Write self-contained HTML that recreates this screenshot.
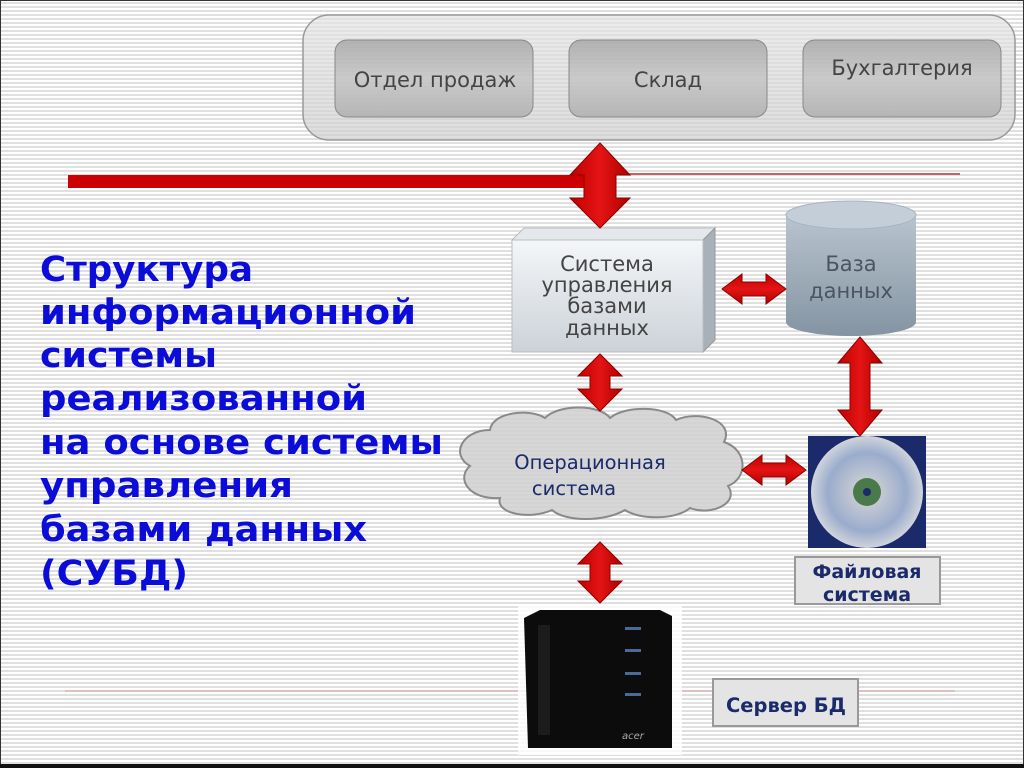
<!DOCTYPE html>
<html><head><meta charset="utf-8"><style>
html,body{margin:0;padding:0;}
body{width:1024px;height:768px;overflow:hidden;position:relative;
background:repeating-linear-gradient(180deg,#ffffff 0px,#ffffff 2px,#e0e0e0 2px,#e0e0e0 4px);
font-family:"DejaVu Sans","Liberation Sans",sans-serif;}
svg{position:absolute;left:0;top:0;}
</style></head><body>
<svg width="1024" height="768" viewBox="0 0 1024 768" xmlns="http://www.w3.org/2000/svg">
<defs>
<linearGradient id="btn" x1="0" y1="0" x2="0" y2="1"><stop offset="0" stop-color="#a4a4a4"/><stop offset="0.5" stop-color="#c4c4c4"/><stop offset="1" stop-color="#acacac"/></linearGradient>
<linearGradient id="panel" x1="0" y1="0" x2="0" y2="1"><stop offset="0" stop-color="#e4e4e4"/><stop offset="1" stop-color="#cfcfcf"/></linearGradient>
<linearGradient id="box" x1="0" y1="0" x2="0" y2="1"><stop offset="0" stop-color="#f4f6f8"/><stop offset="1" stop-color="#ccd2d8"/></linearGradient>
<linearGradient id="cyl" x1="0" y1="0" x2="0" y2="1"><stop offset="0" stop-color="#b8c4ce"/><stop offset="1" stop-color="#8494a2"/></linearGradient>
<linearGradient id="red" x1="0" y1="0" x2="1" y2="0"><stop offset="0" stop-color="#c00000"/><stop offset="0.5" stop-color="#e41414"/><stop offset="1" stop-color="#b00000"/></linearGradient>
<linearGradient id="redv" x1="0" y1="0" x2="0" y2="1"><stop offset="0" stop-color="#c00000"/><stop offset="0.5" stop-color="#e41414"/><stop offset="1" stop-color="#b00000"/></linearGradient>
<radialGradient id="cd" cx="0.5" cy="0.5" r="0.5"><stop offset="0" stop-color="#3a6a3a"/><stop offset="0.15" stop-color="#6a8a70"/><stop offset="0.2" stop-color="#c8ccd4"/><stop offset="0.7" stop-color="#9aaccc"/><stop offset="1" stop-color="#d0d4dc"/></radialGradient>
</defs>
<rect x="0.5" y="0.5" width="1023" height="767" fill="none" stroke="#333" stroke-width="1"/>
<rect x="0" y="764" width="1024" height="4" fill="#111"/>
<rect x="303" y="15" width="712" height="125" rx="26" fill="url(#panel)" fill-opacity="0.7" stroke="#999" stroke-width="1.5"/>
<rect x="335" y="40" width="198" height="77" rx="12" fill="url(#btn)" fill-opacity="0.8" stroke="#888"/>
<rect x="569" y="40" width="198" height="77" rx="12" fill="url(#btn)" fill-opacity="0.8" stroke="#888"/>
<rect x="803" y="40" width="198" height="77" rx="12" fill="url(#btn)" fill-opacity="0.8" stroke="#888"/>
<g font-family="DejaVu Sans, Liberation Sans, sans-serif" font-size="21" fill="#444" text-anchor="middle">
<text x="435" y="87">Отдел продаж</text>
<text x="668" y="87">Склад</text>
<text x="902" y="75">Бухгалтерия</text>
</g>
<rect x="68" y="175" width="520" height="13" fill="#cc0000"/>
<line x1="615" y1="174" x2="960" y2="174" stroke="#c03030" stroke-width="1.5"/>
<line x1="65" y1="691" x2="955" y2="691" stroke="#e0a0a0" stroke-width="1"/>
<g font-family="DejaVu Sans, Verdana, sans-serif" font-weight="bold" font-size="35" fill="#0c0cd8">
<text x="40" y="281" textLength="213" lengthAdjust="spacingAndGlyphs">Структура</text>
<text x="40" y="324" textLength="376" lengthAdjust="spacingAndGlyphs">информационной</text>
<text x="40" y="367" textLength="177" lengthAdjust="spacingAndGlyphs">системы</text>
<text x="40" y="410" textLength="327" lengthAdjust="spacingAndGlyphs">реализованной</text>
<text x="40" y="454" textLength="403" lengthAdjust="spacingAndGlyphs">на основе системы</text>
<text x="40" y="497" textLength="253" lengthAdjust="spacingAndGlyphs">управления</text>
<text x="40" y="541" textLength="327" lengthAdjust="spacingAndGlyphs">базами данных</text>
<text x="40" y="585" textLength="148" lengthAdjust="spacingAndGlyphs">(СУБД)</text>
</g>
<polygon points="512,240 524,228 715,228 703,240" fill="#e4e8ec" stroke="#bbb"/>
<polygon points="703,240 715,228 715,340 703,352" fill="#a8b0b8" stroke="#999"/>
<rect x="512" y="240" width="191" height="112" fill="url(#box)" stroke="#b8bec4"/>
<g font-size="21" fill="#444" text-anchor="middle">
<text x="607" y="271">Система</text>
<text x="607" y="292">управления</text>
<text x="607" y="313">базами</text>
<text x="607" y="335">данных</text>
</g>
<path d="M786,215 L786,322 A65,14 0 0 0 916,322 L916,215 Z" fill="url(#cyl)"/>
<ellipse cx="851" cy="215" rx="65" ry="14" fill="#c4ced8" stroke="#a8b4c0"/>
<g font-size="21" fill="#4a5560" text-anchor="middle">
<text x="851" y="271">База</text>
<text x="851" y="298">данных</text>
</g>
<path d="M490,430 C492,412 530,408 545,418 C558,404 600,404 610,418 C625,405 668,406 676,420 C698,410 735,420 724,442 C748,450 748,478 728,486 C740,504 710,516 690,508 C676,520 640,520 625,510 C605,522 565,522 552,510 C530,520 495,514 500,498 C468,500 456,478 470,466 C450,455 462,430 490,430 Z" fill="#d0d0d0" fill-opacity="0.85" stroke="#8a8a8a" stroke-width="2"/>
<g font-size="19.5" fill="#1a2a6a" text-anchor="middle">
<text x="590" y="469">Операционная</text>
<text x="574" y="495">система</text>
</g>
<rect x="808" y="436" width="118" height="112" fill="#1a2a6a"/>
<circle cx="867" cy="492" r="56" fill="url(#cd)"/>
<circle cx="867" cy="492" r="14" fill="#4a7a4a"/>
<circle cx="867" cy="492" r="4" fill="#1a2a6a"/>
<rect x="518" y="605" width="164" height="150" fill="#fff" fill-opacity="0.8"/>
<path d="M524,618 L540,610 L660,610 L672,616 L672,748 L528,748 Z" fill="#0c0c0c"/>
<rect x="538" y="625" width="12" height="110" fill="#1c1c1c"/>
<g fill="#4a6a9a"><rect x="625" y="627" width="16" height="3"/><rect x="625" y="649" width="16" height="3"/><rect x="625" y="672" width="16" height="3"/><rect x="625" y="693" width="16" height="3"/></g>
<text x="622" y="739" font-size="10" fill="#aaa" font-style="italic">acer</text>
<rect x="795" y="557" width="145" height="47" fill="#e4e4e4" stroke="#999" stroke-width="2"/>
<g font-weight="bold" font-size="19" fill="#1a2a6a" text-anchor="middle">
<text x="867" y="578">Файловая</text>
<text x="867" y="601">система</text>
</g>
<rect x="713" y="679" width="145" height="47" fill="#e4e4e4" stroke="#999" stroke-width="2"/>
<text x="786" y="712" font-weight="bold" font-size="19.5" fill="#1a2a6a" text-anchor="middle">Сервер БД</text>
<g stroke="#8a0000" stroke-width="1">
<polygon fill="url(#red)" points="600,143 630,175 616,175 616,198 630,198 600,228 570,198 584,198 584,175 570,175"/>
<polygon fill="url(#red)" points="600,354 622,376 610,376 610,389 622,389 600,411 578,389 590,389 590,376 578,376"/>
<polygon fill="url(#red)" points="860,337 882,363 870,363 870,410 882,410 860,436 838,410 850,410 850,363 838,363"/>
<polygon fill="url(#red)" points="600,542 622,564 610,564 610,581 622,581 600,603 578,581 590,581 590,564 578,564"/>
<polygon fill="url(#redv)" points="722,289 742,274 742,282 766,282 766,274 786,289 766,304 766,296 742,296 742,304"/>
<polygon fill="url(#redv)" points="742,470 762,455 762,463 786,463 786,455 806,470 786,485 786,477 762,477 762,485"/>
</g>
</svg>
</body></html>
